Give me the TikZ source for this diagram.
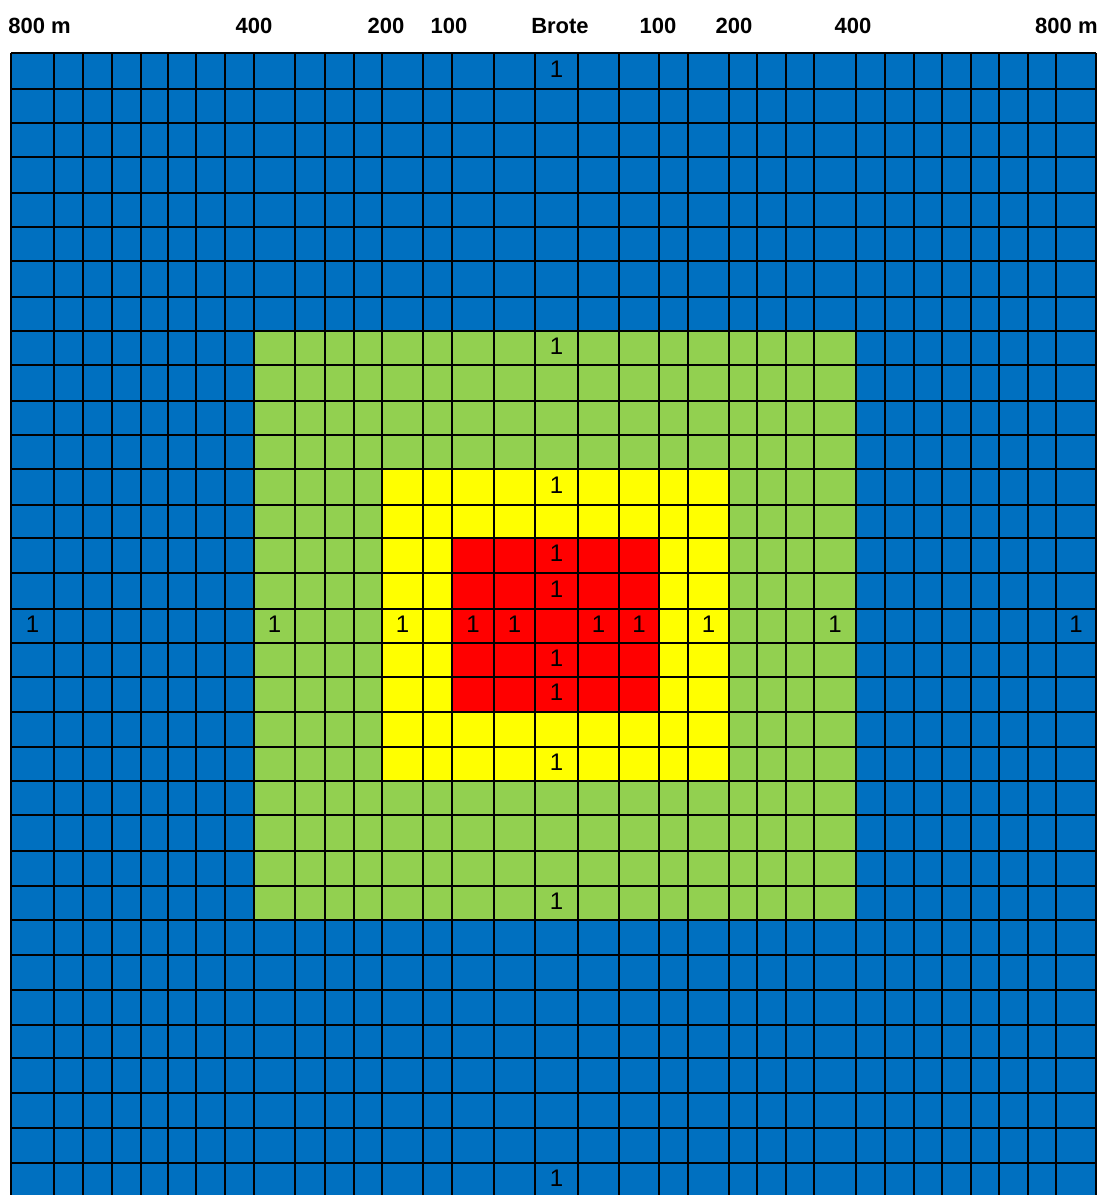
\documentclass[tikz,border=0pt]{standalone}
\usepackage{fontspec}
\setmainfont{Liberation Sans}
\definecolor{zoneblue}{HTML}{0070C0}
\definecolor{zonegreen}{HTML}{92D050}
\definecolor{zoneyellow}{HTML}{FFFF00}
\definecolor{zonered}{HTML}{FF0000}
\begin{document}
\begin{tikzpicture}[
  x=0.5pt,y=-0.5pt,
  gridline/.style={line width=1pt,black},
  head/.style={font=\fontsize{11}{13}\selectfont\bfseries,inner sep=0pt},
  one/.style={font=\fontsize{12}{14}\selectfont,inner sep=0pt,yshift=1pt}
]
\useasboundingbox (0,0) rectangle (1103,1195);
\begin{scope}
\clip (0,0) rectangle (1103,1195);
% zones around the outbreak
\fill[zoneblue] (11,53) rectangle (1096,1198);
\fill[zonegreen] (254,331) rectangle (856,920);
\fill[zoneyellow] (382,469) rectangle (729,781);
\fill[zonered] (452,538) rectangle (659,712);
% cell lines
\foreach \gx in {11,54,83,112,141,168,196,225,254,295,325,354,382,423,452,494,535,578,619,659,688,729,757,786,814,856,885,914,942,971,999,1028,1056,1096}
  \draw[gridline] (\gx,53) -- (\gx,1198);
\foreach \gy in {53,89,123,157,193,227,261,297,331,365,401,435,469,505,538,573,609,643,677,712,747,781,815,851,886,920,955,990,1025,1058,1093,1128,1163,1198}
  \draw[gridline] (11,\gy) -- (1096,\gy);
\end{scope}
% distances
\node[head,anchor=west] (d800l) at (8,26) {800 m};
\node[head] (d400l) at (254,26) {400};
\node[head] (d200l) at (386,26) {200};
\node[head] (d100l) at (449,26) {100};
\node[head] (brote) at (560,26) {Brote};
\node[head] (d100r) at (658,26) {100};
\node[head] (d200r) at (734,26) {200};
\node[head] (d400r) at (853,26) {400};
\node[head,anchor=east] (d800r) at (1098,26) {800 m};
% sampled cells
\foreach \ox/\oy [count=\k] in {556.5/71,556.5/348,556.5/487,556.5/555.5,556.5/591,
    32.5/626,274.5/626,402.5/626,473/626,514.5/626,598.5/626,639/626,708.5/626,835/626,1076/626,
    556.5/660,556.5/694.5,556.5/764,556.5/903,556.5/1180.5}
  \node[one] (one\k) at (\ox,\oy) {1};
\end{tikzpicture}
\end{document}
